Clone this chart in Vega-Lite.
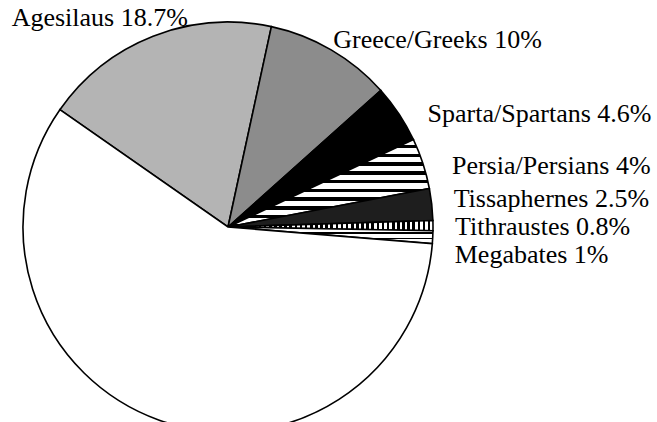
{
 "$schema": "https://vega.github.io/schema/vega-lite/v6.json",
 "autosize": "none",
 "width": 456, "height": 390,
 "padding": {"left": 0, "top": 32, "right": 201, "bottom": 0},
 "background": "white",
 "data": {"values": [
   {"k": 1, "name": "Agesilaus", "pct": 18.7, "label": "Agesilaus 18.7%"},
   {"k": 2, "name": "Greece/Greeks", "pct": 10, "label": "Greece/Greeks 10%"},
   {"k": 3, "name": "Sparta/Spartans", "pct": 4.6, "label": "Sparta/Spartans 4.6%"},
   {"k": 4, "name": "Persia/Persians", "pct": 4, "label": "Persia/Persians 4%"},
   {"k": 5, "name": "Tissaphernes", "pct": 2.5, "label": "Tissaphernes 2.5%"},
   {"k": 6, "name": "Tithraustes", "pct": 0.8, "label": "Tithraustes 0.8%"},
   {"k": 7, "name": "Megabates", "pct": 1, "label": "Megabates 1%"},
   {"k": 8, "name": "Other", "pct": 58.4, "label": ""}
 ]},
 "encoding": {
   "theta": {"field": "pct", "type": "quantitative", "stack": true, "scale": {"range": [-0.9617, 5.3215]}},
   "order": {"field": "k", "type": "quantitative"},
   "detail": {"field": "k", "type": "nominal"}
 },
 "layer": [
  {"mark": {"type": "arc", "outerRadius": 205, "stroke": "black", "strokeWidth": 1.6},
   "encoding": {"fill": {"condition": [
     {"test": "datum.k == 1", "value": "#b4b4b4"},
     {"test": "datum.k == 2", "value": "#8c8c8c"},
     {"test": "datum.k == 3", "value": "#000000"},
     {"test": "datum.k == 4", "value": {"gradient": "linear", "x1": 0, "y1": 0, "x2": 0, "y2": 1, "stops": [
        {"offset": 0, "color": "#fff"}, {"offset": 0.06, "color": "#fff"}, {"offset": 0.06, "color": "#000"}, {"offset": 0.1, "color": "#000"},
        {"offset": 0.1, "color": "#fff"}, {"offset": 0.16, "color": "#fff"}, {"offset": 0.16, "color": "#000"}, {"offset": 0.2, "color": "#000"},
        {"offset": 0.2, "color": "#fff"}, {"offset": 0.26, "color": "#fff"}, {"offset": 0.26, "color": "#000"}, {"offset": 0.3, "color": "#000"},
        {"offset": 0.3, "color": "#fff"}, {"offset": 0.36, "color": "#fff"}, {"offset": 0.36, "color": "#000"}, {"offset": 0.4, "color": "#000"},
        {"offset": 0.4, "color": "#fff"}, {"offset": 0.46, "color": "#fff"}, {"offset": 0.46, "color": "#000"}, {"offset": 0.5, "color": "#000"},
        {"offset": 0.5, "color": "#fff"}, {"offset": 0.56, "color": "#fff"}, {"offset": 0.56, "color": "#000"}, {"offset": 0.6, "color": "#000"},
        {"offset": 0.6, "color": "#fff"}, {"offset": 0.66, "color": "#fff"}, {"offset": 0.66, "color": "#000"}, {"offset": 0.7, "color": "#000"},
        {"offset": 0.7, "color": "#fff"}, {"offset": 0.76, "color": "#fff"}, {"offset": 0.76, "color": "#000"}, {"offset": 0.8, "color": "#000"},
        {"offset": 0.8, "color": "#fff"}, {"offset": 0.86, "color": "#fff"}, {"offset": 0.86, "color": "#000"}, {"offset": 0.9, "color": "#000"},
        {"offset": 0.9, "color": "#fff"}, {"offset": 0.96, "color": "#fff"}, {"offset": 0.96, "color": "#000"}, {"offset": 1, "color": "#000"}
     ]}},
     {"test": "datum.k == 5", "value": "#1e1e1e"},
     {"test": "datum.k == 6", "value": {"gradient": "linear", "x1": 0, "y1": 0, "x2": 1, "y2": 0, "stops": [
        {"offset": 0, "color": "#000"}, {"offset": 0.0125, "color": "#000"}, {"offset": 0.0125, "color": "#fff"}, {"offset": 0.025, "color": "#fff"},
        {"offset": 0.025, "color": "#000"}, {"offset": 0.0375, "color": "#000"}, {"offset": 0.0375, "color": "#fff"}, {"offset": 0.05, "color": "#fff"},
        {"offset": 0.05, "color": "#000"}, {"offset": 0.0625, "color": "#000"}, {"offset": 0.0625, "color": "#fff"}, {"offset": 0.075, "color": "#fff"},
        {"offset": 0.075, "color": "#000"}, {"offset": 0.0875, "color": "#000"}, {"offset": 0.0875, "color": "#fff"}, {"offset": 0.1, "color": "#fff"},
        {"offset": 0.1, "color": "#000"}, {"offset": 0.1125, "color": "#000"}, {"offset": 0.1125, "color": "#fff"}, {"offset": 0.125, "color": "#fff"},
        {"offset": 0.125, "color": "#000"}, {"offset": 0.1375, "color": "#000"}, {"offset": 0.1375, "color": "#fff"}, {"offset": 0.15, "color": "#fff"},
        {"offset": 0.15, "color": "#000"}, {"offset": 0.1625, "color": "#000"}, {"offset": 0.1625, "color": "#fff"}, {"offset": 0.175, "color": "#fff"},
        {"offset": 0.175, "color": "#000"}, {"offset": 0.1875, "color": "#000"}, {"offset": 0.1875, "color": "#fff"}, {"offset": 0.2, "color": "#fff"},
        {"offset": 0.2, "color": "#000"}, {"offset": 0.2125, "color": "#000"}, {"offset": 0.2125, "color": "#fff"}, {"offset": 0.225, "color": "#fff"},
        {"offset": 0.225, "color": "#000"}, {"offset": 0.2375, "color": "#000"}, {"offset": 0.2375, "color": "#fff"}, {"offset": 0.25, "color": "#fff"},
        {"offset": 0.25, "color": "#000"}, {"offset": 0.2625, "color": "#000"}, {"offset": 0.2625, "color": "#fff"}, {"offset": 0.275, "color": "#fff"},
        {"offset": 0.275, "color": "#000"}, {"offset": 0.2875, "color": "#000"}, {"offset": 0.2875, "color": "#fff"}, {"offset": 0.3, "color": "#fff"},
        {"offset": 0.3, "color": "#000"}, {"offset": 0.3125, "color": "#000"}, {"offset": 0.3125, "color": "#fff"}, {"offset": 0.325, "color": "#fff"},
        {"offset": 0.325, "color": "#000"}, {"offset": 0.3375, "color": "#000"}, {"offset": 0.3375, "color": "#fff"}, {"offset": 0.35, "color": "#fff"},
        {"offset": 0.35, "color": "#000"}, {"offset": 0.3625, "color": "#000"}, {"offset": 0.3625, "color": "#fff"}, {"offset": 0.375, "color": "#fff"},
        {"offset": 0.375, "color": "#000"}, {"offset": 0.3875, "color": "#000"}, {"offset": 0.3875, "color": "#fff"}, {"offset": 0.4, "color": "#fff"},
        {"offset": 0.4, "color": "#000"}, {"offset": 0.4125, "color": "#000"}, {"offset": 0.4125, "color": "#fff"}, {"offset": 0.425, "color": "#fff"},
        {"offset": 0.425, "color": "#000"}, {"offset": 0.4375, "color": "#000"}, {"offset": 0.4375, "color": "#fff"}, {"offset": 0.45, "color": "#fff"},
        {"offset": 0.45, "color": "#000"}, {"offset": 0.4625, "color": "#000"}, {"offset": 0.4625, "color": "#fff"}, {"offset": 0.475, "color": "#fff"},
        {"offset": 0.475, "color": "#000"}, {"offset": 0.4875, "color": "#000"}, {"offset": 0.4875, "color": "#fff"}, {"offset": 0.5, "color": "#fff"},
        {"offset": 0.5, "color": "#000"}, {"offset": 0.5125, "color": "#000"}, {"offset": 0.5125, "color": "#fff"}, {"offset": 0.525, "color": "#fff"},
        {"offset": 0.525, "color": "#000"}, {"offset": 0.5375, "color": "#000"}, {"offset": 0.5375, "color": "#fff"}, {"offset": 0.55, "color": "#fff"},
        {"offset": 0.55, "color": "#000"}, {"offset": 0.5625, "color": "#000"}, {"offset": 0.5625, "color": "#fff"}, {"offset": 0.575, "color": "#fff"},
        {"offset": 0.575, "color": "#000"}, {"offset": 0.5875, "color": "#000"}, {"offset": 0.5875, "color": "#fff"}, {"offset": 0.6, "color": "#fff"},
        {"offset": 0.6, "color": "#000"}, {"offset": 0.6125, "color": "#000"}, {"offset": 0.6125, "color": "#fff"}, {"offset": 0.625, "color": "#fff"},
        {"offset": 0.625, "color": "#000"}, {"offset": 0.6375, "color": "#000"}, {"offset": 0.6375, "color": "#fff"}, {"offset": 0.65, "color": "#fff"},
        {"offset": 0.65, "color": "#000"}, {"offset": 0.6625, "color": "#000"}, {"offset": 0.6625, "color": "#fff"}, {"offset": 0.675, "color": "#fff"},
        {"offset": 0.675, "color": "#000"}, {"offset": 0.6875, "color": "#000"}, {"offset": 0.6875, "color": "#fff"}, {"offset": 0.7, "color": "#fff"},
        {"offset": 0.7, "color": "#000"}, {"offset": 0.7125, "color": "#000"}, {"offset": 0.7125, "color": "#fff"}, {"offset": 0.725, "color": "#fff"},
        {"offset": 0.725, "color": "#000"}, {"offset": 0.7375, "color": "#000"}, {"offset": 0.7375, "color": "#fff"}, {"offset": 0.75, "color": "#fff"},
        {"offset": 0.75, "color": "#000"}, {"offset": 0.7625, "color": "#000"}, {"offset": 0.7625, "color": "#fff"}, {"offset": 0.775, "color": "#fff"},
        {"offset": 0.775, "color": "#000"}, {"offset": 0.7875, "color": "#000"}, {"offset": 0.7875, "color": "#fff"}, {"offset": 0.8, "color": "#fff"},
        {"offset": 0.8, "color": "#000"}, {"offset": 0.8125, "color": "#000"}, {"offset": 0.8125, "color": "#fff"}, {"offset": 0.825, "color": "#fff"},
        {"offset": 0.825, "color": "#000"}, {"offset": 0.8375, "color": "#000"}, {"offset": 0.8375, "color": "#fff"}, {"offset": 0.85, "color": "#fff"},
        {"offset": 0.85, "color": "#000"}, {"offset": 0.8625, "color": "#000"}, {"offset": 0.8625, "color": "#fff"}, {"offset": 0.875, "color": "#fff"},
        {"offset": 0.875, "color": "#000"}, {"offset": 0.8875, "color": "#000"}, {"offset": 0.8875, "color": "#fff"}, {"offset": 0.9, "color": "#fff"},
        {"offset": 0.9, "color": "#000"}, {"offset": 0.9125, "color": "#000"}, {"offset": 0.9125, "color": "#fff"}, {"offset": 0.925, "color": "#fff"},
        {"offset": 0.925, "color": "#000"}, {"offset": 0.9375, "color": "#000"}, {"offset": 0.9375, "color": "#fff"}, {"offset": 0.95, "color": "#fff"},
        {"offset": 0.95, "color": "#000"}, {"offset": 0.9625, "color": "#000"}, {"offset": 0.9625, "color": "#fff"}, {"offset": 0.975, "color": "#fff"},
        {"offset": 0.975, "color": "#000"}, {"offset": 0.9875, "color": "#000"}, {"offset": 0.9875, "color": "#fff"}, {"offset": 1, "color": "#fff"}
     ]}},
     {"test": "datum.k == 7", "value": {"gradient": "linear", "x1": 0, "y1": 0, "x2": 0, "y2": 1, "stops": [
        {"offset": 0, "color": "#fff"}, {"offset": 0.3, "color": "#fff"}, {"offset": 0.3, "color": "#000"}, {"offset": 0.4, "color": "#000"},
        {"offset": 0.4, "color": "#fff"}, {"offset": 0.65, "color": "#fff"}, {"offset": 0.65, "color": "#000"}, {"offset": 0.75, "color": "#000"},
        {"offset": 0.75, "color": "#fff"}, {"offset": 1, "color": "#fff"}
     ]}}
   ], "value": "#ffffff"}}},
  {"mark": {"type": "text", "radius": 225, "align": "center", "baseline": "middle", "dx": -46, "font": "Liberation Serif", "fontSize": 26, "fill": "#000"},
   "encoding": {"text": {"condition": {"test": "datum.k == 1", "field": "label", "type": "nominal"}, "value": ""}}},
  {"mark": {"type": "text", "radius": 225, "align": "left", "baseline": "middle", "dx": -8, "dy": 7, "font": "Liberation Serif", "fontSize": 26, "fill": "#000"},
   "encoding": {"text": {"condition": {"test": "datum.k == 2", "field": "label", "type": "nominal"}, "value": ""}}},
  {"mark": {"type": "text", "radius": 225, "align": "left", "baseline": "middle", "dx": 12, "dy": 11, "font": "Liberation Serif", "fontSize": 26, "fill": "#000"},
   "encoding": {"text": {"condition": {"test": "datum.k == 3", "field": "label", "type": "nominal"}, "value": ""}}},
  {"mark": {"type": "text", "radius": 225, "align": "left", "baseline": "middle", "dx": 10, "dy": 9, "font": "Liberation Serif", "fontSize": 26, "fill": "#000"},
   "encoding": {"text": {"condition": {"test": "datum.k == 4", "field": "label", "type": "nominal"}, "value": ""}}},
  {"mark": {"type": "text", "radius": 225, "align": "left", "baseline": "middle", "dx": 2, "dy": -3, "font": "Liberation Serif", "fontSize": 26, "fill": "#000"},
   "encoding": {"text": {"condition": {"test": "datum.k == 5", "field": "label", "type": "nominal"}, "value": ""}}},
  {"mark": {"type": "text", "radius": 225, "align": "left", "baseline": "middle", "dx": 2, "dy": 1, "font": "Liberation Serif", "fontSize": 26, "fill": "#000"},
   "encoding": {"text": {"condition": {"test": "datum.k == 6", "field": "label", "type": "nominal"}, "value": ""}}},
  {"mark": {"type": "text", "radius": 225, "align": "left", "baseline": "middle", "dx": 2, "dy": 17, "font": "Liberation Serif", "fontSize": 26, "fill": "#000"},
   "encoding": {"text": {"condition": {"test": "datum.k == 7", "field": "label", "type": "nominal"}, "value": ""}}}
 ],
 "config": {"view": {"stroke": null}}
}
